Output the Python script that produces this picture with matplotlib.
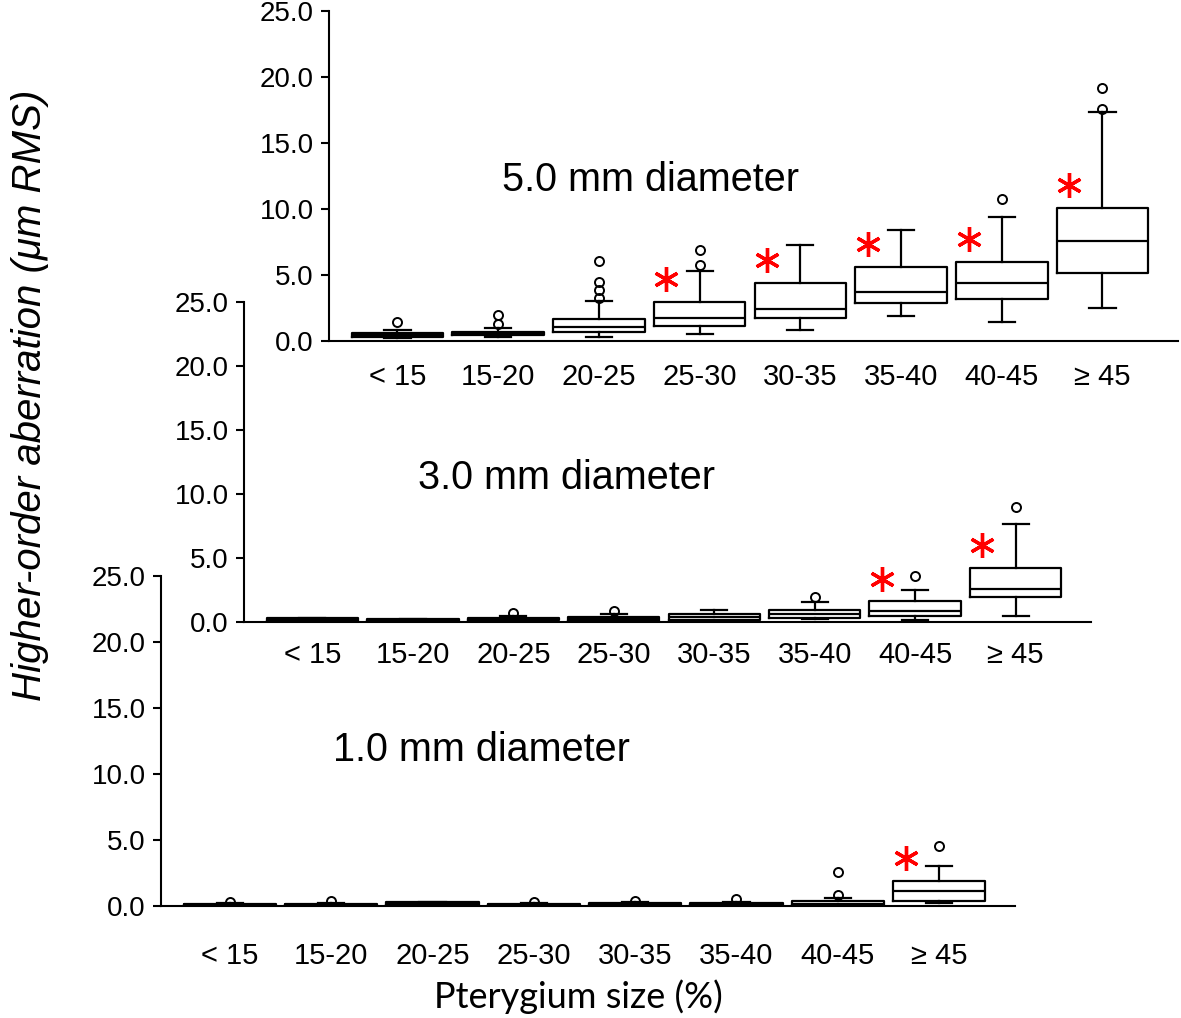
import matplotlib
matplotlib.use('Agg')
import matplotlib.pyplot as plt

plt.rcParams['font.family'] = ['Liberation Sans', 'DejaVu Sans']

groups = ['< 15', '15-20', '20-25', '25-30', '30-35', '35-40', '40-45', '≥ 45']

# 5.0 mm diameter
q1_5 = [0.28, 0.43, 0.66, 1.14, 1.77, 2.90, 3.20, 5.17]
med_5 = [0.45, 0.55, 1.08, 1.77, 2.42, 3.69, 4.42, 7.60]
q3_5 = [0.58, 0.70, 1.67, 2.98, 4.37, 5.63, 5.96, 10.05]
lo_5 = [0.20, 0.33, 0.30, 0.50, 0.83, 1.89, 1.42, 2.52]
hi_5 = [0.83, 0.96, 3.03, 5.30, 7.27, 8.41, 9.37, 17.35]
out_5 = [[1.46], [1.29, 1.97], [3.28, 3.86, 4.49, 6.06], [5.76, 6.89], [], [], [10.78], [17.6, 19.2]]
sig_5 = [0, 0, 0, 1, 1, 1, 1, 1]

# 3.0 mm diameter
q1_3 = [0.08, 0.08, 0.13, 0.10, 0.16, 0.29, 0.49, 1.93]
med_3 = [0.17, 0.14, 0.22, 0.25, 0.42, 0.63, 0.89, 2.60]
q3_3 = [0.28, 0.21, 0.34, 0.39, 0.63, 0.94, 1.61, 4.24]
lo_3 = [0.05, 0.05, 0.05, 0.05, 0.03, 0.21, 0.16, 0.49]
hi_3 = [0.34, 0.24, 0.49, 0.63, 0.94, 1.59, 2.50, 7.63]
out_3 = [[], [], [0.70], [0.83], [], [1.98], [3.59], [8.96]]
sig_3 = [0, 0, 0, 0, 0, 0, 1, 1]

# 1.0 mm diameter
q1_1 = [0.05, 0.04, 0.05, 0.04, 0.04, 0.05, 0.05, 0.40]
med_1 = [0.10, 0.08, 0.15, 0.08, 0.12, 0.13, 0.18, 1.14]
q3_1 = [0.18, 0.15, 0.30, 0.12, 0.22, 0.25, 0.38, 1.92]
lo_1 = [0.02, 0.02, 0.02, 0.02, 0.02, 0.02, 0.02, 0.25]
hi_1 = [0.22, 0.24, 0.33, 0.20, 0.28, 0.30, 0.63, 3.06]
out_1 = [[0.33], [0.40], [], [0.33], [0.38], [0.50], [0.81, 2.58], [4.52]]
sig_1 = [0, 0, 0, 0, 0, 0, 0, 1]

yticks = [0, 5, 10, 15, 20, 25]


def panel(ax, q1, med, q3, lo, hi, fliers, sig, title, title_xy, xpad):
    stats = []
    for i in range(len(groups)):
        stats.append({'q1': q1[i], 'med': med[i], 'q3': q3[i],
                      'whislo': lo[i], 'whishi': hi[i], 'fliers': fliers[i]})
    pos = list(range(1, len(groups) + 1))
    lw = 1.6
    ax.bxp(stats, positions=pos, widths=0.91, capwidths=0.26,
           boxprops=dict(color='black', linewidth=lw),
           medianprops=dict(color='black', linewidth=lw),
           whiskerprops=dict(color='black', linewidth=lw),
           capprops=dict(color='black', linewidth=lw),
           flierprops=dict(marker='o', markerfacecolor='none', markeredgecolor='black',
                           markersize=6.5, markeredgewidth=1.4))
    # significance asterisks
    for i in range(len(groups)):
        if sig[i]:
            ax.plot(pos[i] - 0.33, q3[i] + 1.75, marker=(6, 2, 0), color='red',
                    markersize=18, markeredgewidth=2.4, linestyle='none')
    ax.set_facecolor('none')
    ax.set_xlim(0.32, 8.75)
    ax.set_ylim(0, 25)
    ax.set_yticks(yticks)
    ax.set_yticklabels(['%.1f' % v for v in yticks], fontsize=20)
    ax.set_xticks(pos)
    ax.set_xticklabels(groups, fontsize=21)
    ax.tick_params(axis='x', length=0, pad=xpad)
    ax.tick_params(axis='y', length=6, width=1.5, pad=5)
    ax.spines['top'].set_visible(False)
    ax.spines['right'].set_visible(False)
    ax.spines['left'].set_linewidth(1.5)
    ax.spines['bottom'].set_linewidth(1.5)
    fig.text(title_xy[0], title_xy[1], title, fontsize=28.5, ha='center', va='center')


fig = plt.figure(figsize=(11.81, 10.18), dpi=100)

ax1 = fig.add_axes([161 / 1181, 1 - 906 / 1018, 854 / 1181, 330 / 1018])
ax3 = fig.add_axes([244 / 1181, 1 - 622 / 1018, 847 / 1181, 320 / 1018])
ax5 = fig.add_axes([329 / 1181, 1 - 341 / 1018, 849 / 1181, 330 / 1018])

panel(ax1, q1_1, med_1, q3_1, lo_1, hi_1, out_1, sig_1, '1.0 mm diameter',
      (481 / 1181, 1 - 750 / 1018), 26)
panel(ax3, q1_3, med_3, q3_3, lo_3, hi_3, out_3, sig_3, '3.0 mm diameter',
      (567 / 1181, 1 - 478 / 1018), 14)
panel(ax5, q1_5, med_5, q3_5, lo_5, hi_5, out_5, sig_5, '5.0 mm diameter',
      (650 / 1181, 1 - 180 / 1018), 15.5)

fig.text(30 / 1181, 1 - 395 / 1018, 'Higher-order aberration (μm RMS)', rotation=90,
         fontsize=29, style='italic', ha='center', va='center')
fig.text(578 / 1181, 1 - 997 / 1018, 'Pterygium size (%)', fontsize=26,
         family=['Lato', 'DejaVu Sans'], ha='center', va='center')

fig.savefig('out.png', dpi=100)
